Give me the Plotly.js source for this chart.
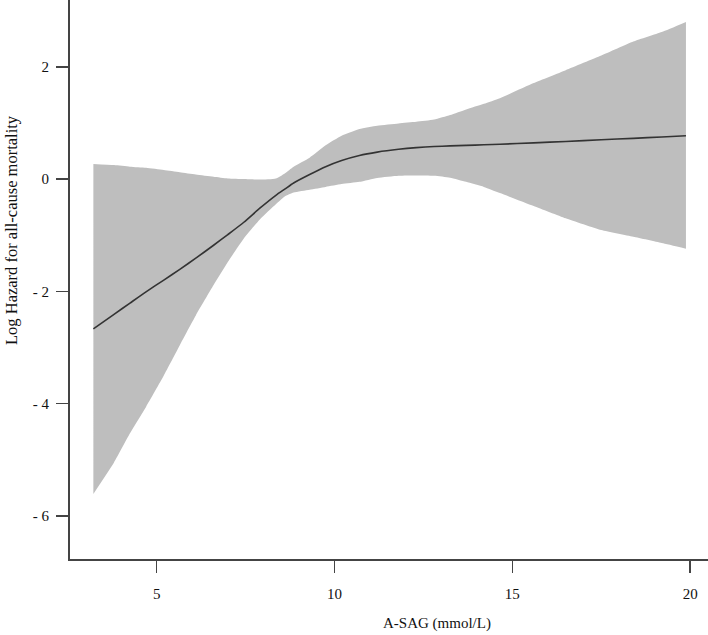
<!DOCTYPE html>
<html>
<head>
<meta charset="utf-8">
<script src="https://cdn.plot.ly/plotly-3.0.1.min.js"></script>
<style>html,body{margin:0;padding:0;background:#fff;}#chart{width:708px;height:635px;}</style>
</head>
<body>
<div id="chart"></div>
<script>
const asag = [3.22, 3.8, 4.25, 4.7, 5.2, 5.65, 6.1, 6.6, 7.0, 7.45, 7.9, 8.35, 8.6, 8.85, 9.3, 9.75, 10.2, 10.7, 11.2, 11.8, 12.3, 12.8, 13.25, 13.7, 14.2, 14.65, 15.6, 16.5, 17.5, 18.4, 19.2, 19.88];
const logHazard = [-2.67, -2.41, -2.21, -2.01, -1.80, -1.61, -1.41, -1.18, -0.99, -0.77, -0.52, -0.29, -0.18, -0.07, 0.08, 0.22, 0.33, 0.42, 0.48, 0.53, 0.56, 0.58, 0.59, 0.60, 0.61, 0.62, 0.645, 0.67, 0.70, 0.725, 0.75, 0.77];
const upperCI = [0.27, 0.25, 0.22, 0.20, 0.16, 0.12, 0.08, 0.04, 0.01, 0.0, -0.01, 0.01, 0.10, 0.22, 0.38, 0.60, 0.77, 0.89, 0.95, 0.99, 1.02, 1.06, 1.14, 1.24, 1.34, 1.44, 1.71, 1.94, 2.20, 2.45, 2.62, 2.80];
const lowerCI = [-5.61, -5.05, -4.53, -4.06, -3.50, -2.96, -2.43, -1.89, -1.48, -1.06, -0.72, -0.45, -0.31, -0.24, -0.19, -0.14, -0.09, -0.05, 0.02, 0.06, 0.065, 0.06, 0.025, -0.05, -0.14, -0.25, -0.48, -0.70, -0.91, -1.03, -1.14, -1.24];
const xTickVals = [5, 10, 15, 20];
const xTickText = ['5', '10', '15', '20'];
const yTickVals = [2, 0, -2, -4, -6];
const yTickText = ['2', '0', '- 2', '- 4', '- 6'];
const xTitle = 'A-SAG (mmol/L)';
const yTitle = 'Log Hazard for all-cause mortality';

const font = {family: '"Liberation Serif", "Times New Roman", serif', size: 15, color: '#111'};

const traces = [
  {x: asag, y: lowerCI, type: 'scatter', mode: 'lines', line: {width: 0, color: 'rgba(0,0,0,0)', shape: 'spline', smoothing: 0.5}, hoverinfo: 'skip', showlegend: false},
  {x: asag, y: upperCI, type: 'scatter', mode: 'lines', line: {width: 0, color: 'rgba(0,0,0,0)', shape: 'spline', smoothing: 0.5}, fill: 'tonexty', fillcolor: '#bebebe', hoverinfo: 'skip', showlegend: false},
  {x: asag, y: logHazard, type: 'scatter', mode: 'lines', line: {width: 1.6, color: '#333', shape: 'spline', smoothing: 0.6}, showlegend: false}
];

const layout = {
  width: 708, height: 635,
  margin: {l: 70, r: 0, t: 0, b: 76},
  paper_bgcolor: '#fff', plot_bgcolor: '#fff',
  font: font,
  showlegend: false,
  xaxis: {
    range: [2.563, 20.5], showgrid: false, zeroline: false,
    showline: true, linecolor: '#444', linewidth: 2,
    ticks: 'outside', ticklen: 12, tickwidth: 1.5, tickcolor: '#444',
    tickvals: xTickVals, ticktext: xTickText, ticklabelstandoff: 8,
    tickfont: font
  },
  yaxis: {
    range: [-6.77, 3.19], showgrid: false, zeroline: false,
    showline: true, linecolor: '#444', linewidth: 2,
    ticks: 'outside', ticklen: 12, tickwidth: 1.5, tickcolor: '#444',
    tickvals: yTickVals, ticktext: yTickText, ticklabelstandoff: 4,
    tickfont: font
  },
  annotations: [
    {text: xTitle, xref: 'paper', yref: 'paper', x: 0.575, y: -0.1145, xanchor: 'center', yanchor: 'middle', showarrow: false, font: font},
    {text: yTitle, xref: 'paper', yref: 'paper', x: -0.0909, y: 0.5886, xanchor: 'center', yanchor: 'middle', textangle: -90, showarrow: false, font: Object.assign({}, font, {size: 16.5})}
  ]
};

Plotly.newPlot('chart', traces, layout, {displayModeBar: false, staticPlot: true});
</script>
</body>
</html>
